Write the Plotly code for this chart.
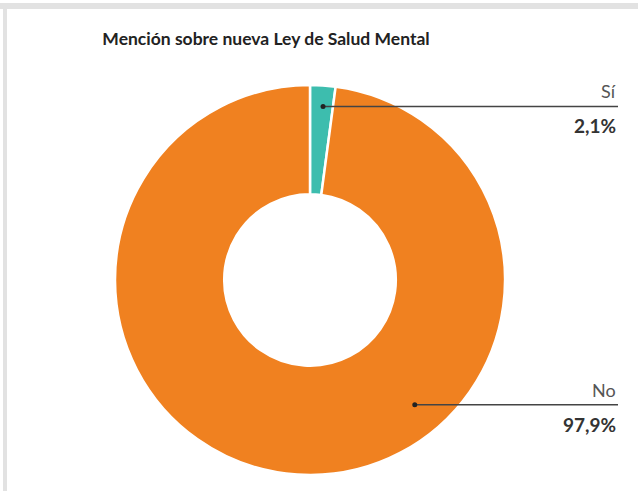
import math
import plotly.graph_objects as go

labels = ["Sí", "No"]
values = [2.1, 97.9]
pct_text = ["2,1%", "97,9%"]
colors = ["#3dbdae", "#f08120"]

W, H = 638, 491
# pie placement in pixels
cx, cy, R = 310, 280, 195

fig = go.Figure(go.Pie(
    labels=labels, values=values, hole=0.44, sort=False, direction="clockwise",
    rotation=0, marker=dict(colors=colors, line=dict(color="white", width=2.5)),
    textinfo="none", hoverinfo="label+percent", showlegend=False,
    domain=dict(x=[(cx - R) / W, (cx + R) / W], y=[1 - (cy + R) / H, 1 - (cy - R) / H]),
))

# leader lines: angle (deg clockwise from top) and radius for the dot
anchors = [(4.3, 174), (140, 163)]
line_end = 618
for lab, txt, (ang, r) in zip(labels, pct_text, anchors):
    px = cx + r * math.sin(math.radians(ang))
    py = cy - r * math.cos(math.radians(ang))
    x0, y0 = px / W, 1 - py / H
    fig.add_shape(type="line", xref="paper", yref="paper", x0=x0, y0=y0, x1=line_end / W, y1=y0,
                  line=dict(color="#444444", width=1.5))
    fig.add_shape(type="circle", xref="paper", yref="paper",
                  x0=(px - 2.5) / W, x1=(px + 2.5) / W, y0=1 - (py + 2.5) / H, y1=1 - (py - 2.5) / H,
                  fillcolor="#222222", line=dict(width=0))
    fig.add_annotation(x=line_end / W, y=y0, xref="paper", yref="paper", text=lab, showarrow=False,
                       xanchor="right", yanchor="bottom", yshift=2,
                       font=dict(family="Lato", size=18, color="#555555"))
    fig.add_annotation(x=line_end / W, y=y0, xref="paper", yref="paper", text="<b>" + txt + "</b>",
                       showarrow=False, xanchor="right", yanchor="top", yshift=-6,
                       font=dict(family="Lato", size=19, color="#333333"))

# card frame shadow (top and left)
fig.add_shape(type="rect", xref="paper", yref="paper", x0=0, x1=1, y0=1 - 9 / H, y1=1 - 3 / H,
              fillcolor="#e2e2e2", line=dict(width=0), layer="below")
fig.add_shape(type="rect", xref="paper", yref="paper", x0=3 / W, x1=7 / W, y0=0, y1=1 - 9 / H,
              fillcolor="#e2e2e2", line=dict(width=0), layer="below")

fig.update_layout(
    width=W, height=H, margin=dict(l=0, r=0, t=0, b=0),
    paper_bgcolor="white", plot_bgcolor="white",
    title=dict(text="<b>Mención sobre nueva Ley de Salud Mental</b>", x=266 / W, xanchor="center",
               y=1 - 39 / H, yanchor="middle",
               font=dict(family="Lato", size=17.5, weight=900, color="#222222")),
)

fig.write_html("out.html", config={"displayModeBar": False},
               post_script="document.body.style.margin='0px';")
